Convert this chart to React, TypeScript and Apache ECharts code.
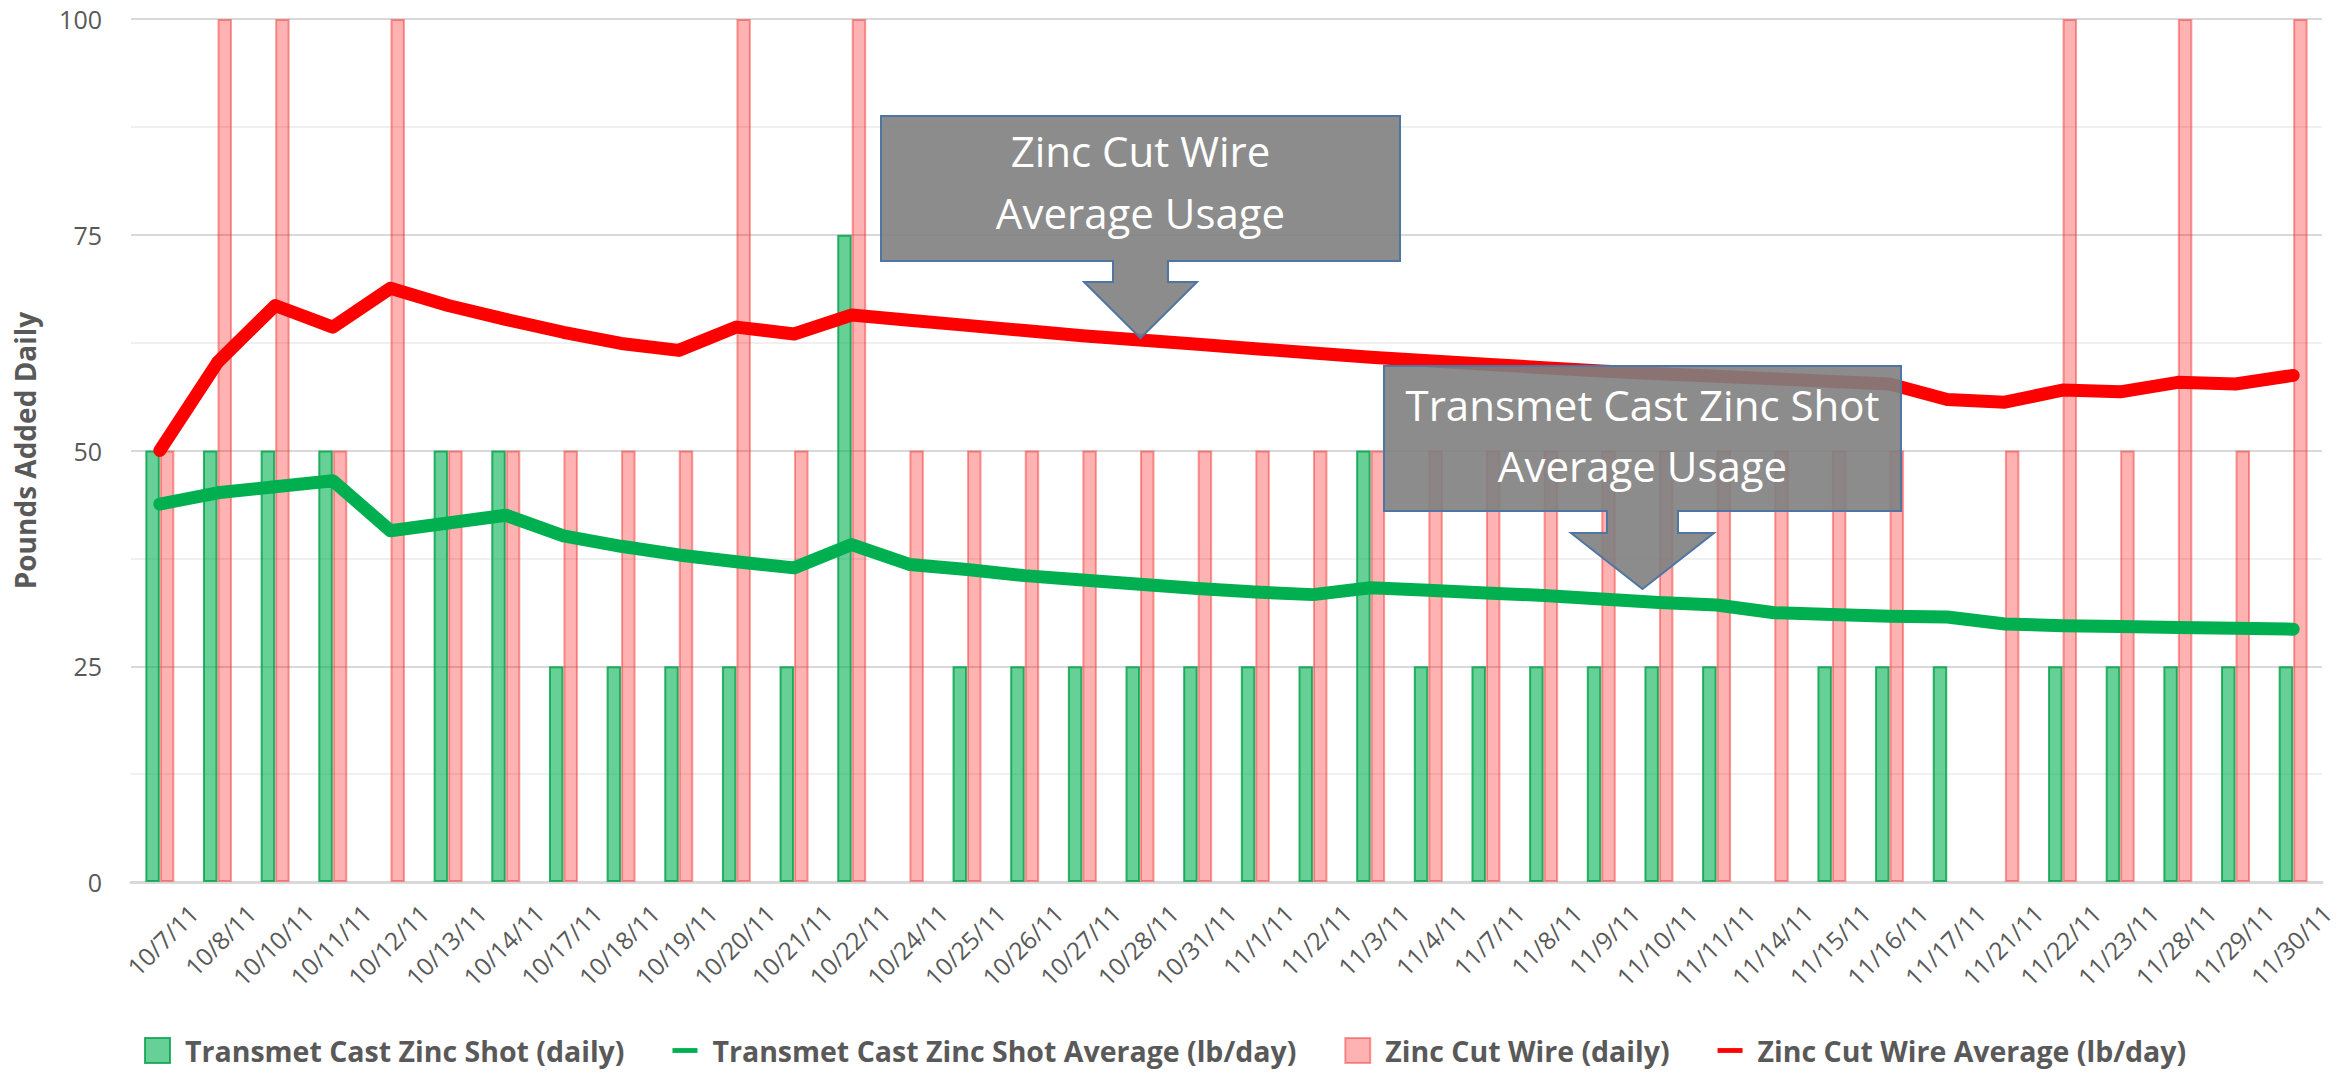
import React, { useEffect, useRef } from 'react';
import * as echarts from 'echarts';

const categories = [
  '10/7/11', '10/8/11', '10/10/11', '10/11/11', '10/12/11', '10/13/11', '10/14/11', '10/17/11',
  '10/18/11', '10/19/11', '10/20/11', '10/21/11', '10/22/11', '10/24/11', '10/25/11', '10/26/11',
  '10/27/11', '10/28/11', '10/31/11', '11/1/11', '11/2/11', '11/3/11', '11/4/11', '11/7/11',
  '11/8/11', '11/9/11', '11/10/11', '11/11/11', '11/14/11', '11/15/11', '11/16/11', '11/17/11',
  '11/21/11', '11/22/11', '11/23/11', '11/28/11', '11/29/11', '11/30/11',
];

const shotDaily = [
  50, 50, 50, 50, 0, 50, 50, 25, 25, 25, 25, 25, 75, 0, 25, 25, 25, 25, 25, 25, 25, 50, 25, 25,
  25, 25, 25, 25, 0, 25, 25, 25, 0, 25, 25, 25, 25, 25,
];

const shotAverage = [
  43.8, 45.1, 45.8, 46.5, 40.7, 41.6, 42.5, 40.1, 38.9, 37.9, 37.1, 36.4, 39.1, 36.8, 36.2, 35.5,
  35.0, 34.5, 34.0, 33.6, 33.3, 34.1, 33.8, 33.5, 33.2, 32.8, 32.4, 32.1, 31.2, 31.0, 30.8, 30.7,
  29.9, 29.7, 29.6, 29.5, 29.4, 29.3,
];

const wireDaily = [
  50, 100, 100, 50, 100, 50, 50, 50, 50, 50, 100, 50, 100, 50, 50, 50, 50, 50, 50, 50, 50, 50, 50,
  50, 50, 50, 50, 50, 50, 50, 50, 0, 50, 100, 50, 100, 50, 100,
];

const wireAverage = [
  50, 60.2, 66.8, 64.3, 68.8, 66.8, 65.2, 63.7, 62.4, 61.6, 64.3, 63.5, 65.7, 65.1, 64.5, 63.9,
  63.3, 62.8, 62.3, 61.8, 61.3, 60.8, 60.4, 60.0, 59.6, 59.2, 58.9, 58.6, 58.3, 58.0, 57.7, 55.9,
  55.6, 57.0, 56.8, 57.9, 57.7, 58.7,
];

const yMin = 0;
const yMax = 100;
const yStep = 25;

const seriesNames = [
  'Transmet Cast Zinc Shot (daily)',
  'Transmet Cast Zinc Shot Average (lb/day)',
  'Zinc Cut Wire (daily)',
  'Zinc Cut Wire Average (lb/day)',
];

const calloutTexts = [
  ['Zinc Cut Wire', 'Average Usage'],
  ['Transmet Cast Zinc Shot', 'Average Usage'],
];

const FONT = "'Open Sans', 'Noto Sans', sans-serif";
const TEXT_GREY = '#595959';

// A day with no addition draws no bar at all.
const asBars = (vals: number[]) => vals.map((v) => (v === 0 ? null : v));

type Callout = {
  left: number; right: number; top: number; bottom: number; cx: number;
  stemHalf: number; stemBottom: number; headHalf: number; tipY: number;
  lineYs: number[]; texts: string[];
};

function calloutElements(c: Callout) {
  const pts = [
    [c.left, c.top], [c.right, c.top], [c.right, c.bottom],
    [c.cx + c.stemHalf, c.bottom], [c.cx + c.stemHalf, c.stemBottom],
    [c.cx + c.headHalf, c.stemBottom], [c.cx, c.tipY],
    [c.cx - c.headHalf, c.stemBottom], [c.cx - c.stemHalf, c.stemBottom],
    [c.cx - c.stemHalf, c.bottom], [c.left, c.bottom],
  ];
  const els: any[] = [
    {
      type: 'polygon',
      shape: { points: pts },
      style: { fill: 'rgba(127,127,127,0.9)', stroke: '#4f76a3', lineWidth: 2 },
      z: 100,
    },
  ];
  c.texts.forEach((t, i) => {
    els.push({
      type: 'text',
      x: c.cx,
      y: c.lineYs[i],
      z: 101,
      style: {
        text: t,
        fill: '#ffffff',
        fontSize: 42,
        fontFamily: FONT,
        align: 'center',
        verticalAlign: 'middle',
      },
    });
  });
  return els;
}

export default function App() {
  const ref = useRef<HTMLDivElement>(null);

  useEffect(() => {
    if (!ref.current) return;
    const chart = echarts.init(ref.current, null, { renderer: 'svg' });

    const callouts: Callout[] = [
      {
        left: 881, right: 1400, top: 116, bottom: 261, cx: 1140.5,
        stemHalf: 27.5, stemBottom: 282, headHalf: 56.5, tipY: 338,
        lineYs: [150, 212], texts: calloutTexts[0],
      },
      {
        left: 1384, right: 1901, top: 366, bottom: 511, cx: 1642.5,
        stemHalf: 35.5, stemBottom: 533, headHalf: 71.5, tipY: 589,
        lineYs: [404, 465], texts: calloutTexts[1],
      },
    ];

    const lineIcon = 'path://M0,0L26,0L26,5L0,5Z';

    chart.setOption({
      animation: false,
      backgroundColor: '#ffffff',
      textStyle: { fontFamily: FONT },
      grid: {
        left: 131,
        right: 16,
        top: 19,
        bottom: 191,
        containLabel: false,
        outerBoundsMode: 'none',
      },
      legend: {
        left: 139,
        top: 1031,
        itemWidth: 25,
        itemHeight: 25,
        itemGap: 48,
        symbolKeepAspect: true,
        textStyle: {
          color: TEXT_GREY,
          fontSize: 28.5,
          fontWeight: 'bold',
          fontFamily: FONT,
          padding: [0, 0, 0, 10],
        },
        data: [
          { name: seriesNames[0], icon: 'rect' },
          { name: seriesNames[1], icon: lineIcon, itemStyle: { color: '#00b050', borderWidth: 0 } },
          { name: seriesNames[2], icon: 'rect' },
          { name: seriesNames[3], icon: lineIcon, itemStyle: { color: '#ff0000', borderWidth: 0 } },
        ],
      },
      xAxis: {
        type: 'category',
        data: categories,
        axisTick: { show: false },
        axisLine: { lineStyle: { color: '#d9d9d9', width: 3 } },
        axisLabel: {
          interval: 0,
          rotate: 45,
          margin: -7,
          align: 'right',
          verticalAlign: 'top',
          lineHeight: 96,
          fontSize: 24.5,
          color: TEXT_GREY,
          fontFamily: FONT,
        },
      },
      yAxis: {
        type: 'value',
        min: yMin,
        max: yMax,
        interval: yStep,
        name: 'Pounds Added Daily',
        nameLocation: 'middle',
        nameGap: 92,
        nameTextStyle: { color: TEXT_GREY, fontSize: 28, fontWeight: 'bold', fontFamily: FONT },
        axisLine: { show: false },
        axisTick: { show: false },
        axisLabel: { margin: 29, fontSize: 25, color: TEXT_GREY, fontFamily: FONT },
        splitLine: { lineStyle: { color: '#d9d9d9', width: 2 } },
        minorTick: { show: false, splitNumber: 2 },
        minorSplitLine: { show: true, lineStyle: { color: '#f0f0f0', width: 2 } },
      },
      series: [
        {
          name: seriesNames[0],
          type: 'bar',
          data: asBars(shotDaily),
          barWidth: 14.5,
          barGap: '0%',
          itemStyle: {
            color: 'rgba(0,176,80,0.6)',
            borderColor: 'rgba(0,160,72,0.8)',
            borderWidth: 2,
          },
          z: 2,
        },
        {
          name: seriesNames[1],
          type: 'line',
          data: shotAverage,
          symbol: 'none',
          color: '#00b050',
          itemStyle: { color: '#00b050' },
          lineStyle: { color: '#00b050', width: 13, cap: 'round', join: 'round' },
          z: 4,
        },
        {
          name: seriesNames[2],
          type: 'bar',
          data: asBars(wireDaily),
          barWidth: 14.5,
          barGap: '0%',
          itemStyle: {
            color: 'rgba(255,0,0,0.3)',
            borderColor: 'rgba(240,40,40,0.45)',
            borderWidth: 2,
          },
          z: 2,
        },
        {
          name: seriesNames[3],
          type: 'line',
          data: wireAverage,
          symbol: 'none',
          color: '#ff0000',
          itemStyle: { color: '#ff0000' },
          lineStyle: { color: '#ff0000', width: 13, cap: 'round', join: 'round' },
          z: 4,
        },
      ],
      graphic: [...calloutElements(callouts[0]), ...calloutElements(callouts[1])],
    });

    return () => chart.dispose();
  }, []);

  return (
    <div
      ref={ref}
      style={{ position: 'absolute', left: 0, top: 0, width: 2338, height: 1073 }}
    />
  );
}
